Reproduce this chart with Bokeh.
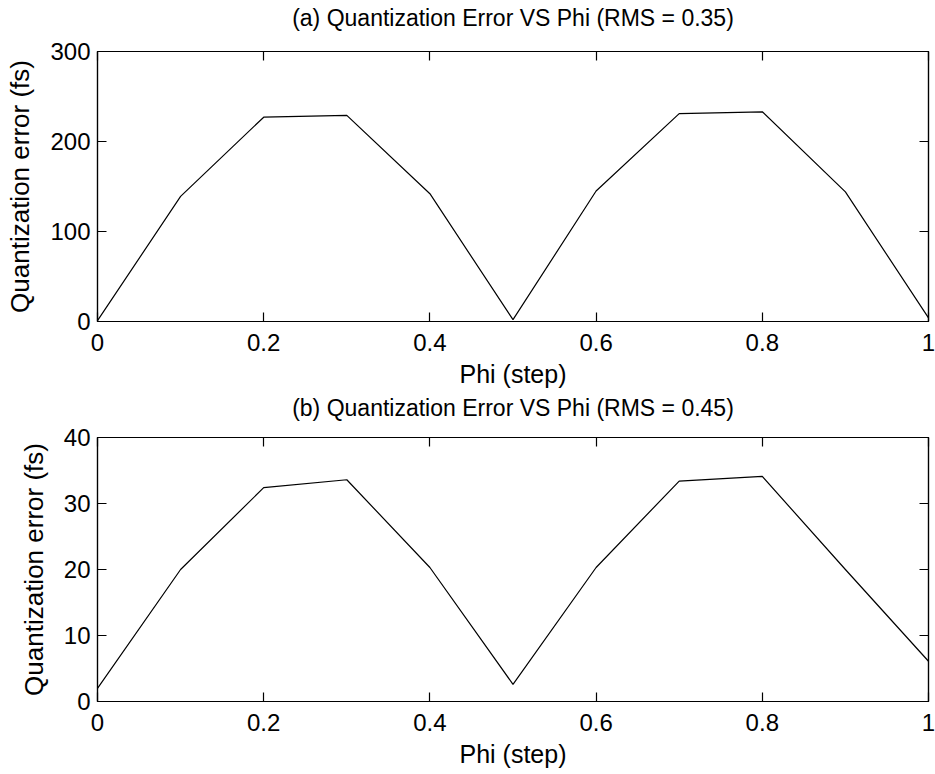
from bokeh.plotting import figure
from bokeh.layouts import column
from bokeh.models import LinearAxis, FixedTicker, Range1d, CustomJSTickFormatter
from bokeh.embed import file_html
from bokeh.resources import INLINE

# ---- data ----
phi = [0.0, 0.1, 0.2, 0.3, 0.4, 0.5, 0.6, 0.7, 0.8, 0.9, 1.0]
err_a = [1, 139, 227, 229, 142, 2, 145, 231, 233, 144, 4]
err_b = [2.0, 20.0, 32.4, 33.6, 20.3, 2.6, 20.3, 33.4, 34.1, 20.0, 6.1]

title_a = "(a) Quantization Error VS Phi (RMS = 0.35)"
title_b = "(b) Quantization Error VS Phi (RMS = 0.45)"
x_label = "Phi (step)"
y_label = "Quantization error (fs)"

x_ticks = [0, 0.2, 0.4, 0.6, 0.8, 1.0]
y_ticks_a = [0, 100, 200, 300]
y_ticks_b = [0, 10, 20, 30, 40]
y_range_a = (0, 300)
y_range_b = (0, 40)

FONT = "Liberation Sans"


def style_axis(ax, show_labels=True, standoff=10):
    ax.axis_line_color = "black"
    ax.axis_line_width = 1.2
    ax.major_tick_line_color = "black"
    ax.major_tick_line_width = 1.2
    ax.major_tick_in = 9
    ax.major_tick_out = 0
    ax.minor_tick_line_color = None
    ax.major_label_text_font = FONT
    ax.major_label_text_color = "black"
    if show_labels:
        ax.major_label_text_font_size = "24px"
        ax.major_label_standoff = standoff
    else:
        ax.major_label_text_font_size = "1px"
        ax.formatter = CustomJSTickFormatter(code="return ''")
        ax.major_label_standoff = 0


def make(title, ys, yr, yticks, height, top, bottom, title_gap):
    p = figure(width=935, height=height, output_backend="svg", toolbar_location=None,
               x_range=Range1d(0, 1), y_range=Range1d(*yr),
               min_border_left=97, min_border_right=7,
               min_border_top=top, min_border_bottom=bottom)

    p.grid.visible = False
    p.outline_line_color = "black"
    p.outline_line_width = 1.2
    p.background_fill_color = "white"
    p.border_fill_color = "white"

    xa = p.xaxis[0]
    ya = p.yaxis[0]
    xa.ticker = FixedTicker(ticks=x_ticks)
    xa.formatter = CustomJSTickFormatter(code="return tick.toFixed(1).replace(/\\.0$/, '')")
    ya.ticker = FixedTicker(ticks=yticks)
    style_axis(xa, True, 12)
    style_axis(ya, True, 7)
    for ax in (xa, ya):
        ax.axis_label_text_font = FONT
        ax.axis_label_text_font_style = "normal"
        ax.axis_label_text_color = "black"
    xa.axis_label = x_label
    xa.axis_label_text_font_size = "25px"
    xa.axis_label_standoff = 6
    ya.axis_label = y_label
    ya.axis_label_text_font_size = "26px"
    ya.axis_label_standoff = 12

    # top axis carries the subplot title as its label
    top_ax = LinearAxis(ticker=FixedTicker(ticks=x_ticks))
    right_ax = LinearAxis(ticker=FixedTicker(ticks=yticks))
    style_axis(top_ax, False)
    style_axis(right_ax, False)
    top_ax.axis_label = title
    top_ax.axis_label_text_font = FONT
    top_ax.axis_label_text_font_size = "23px"
    top_ax.axis_label_text_font_style = "normal"
    top_ax.axis_label_text_color = "black"
    top_ax.axis_label_standoff = title_gap
    p.add_layout(top_ax, "above")
    p.add_layout(right_ax, "right")

    p.line(phi, ys, line_color="black", line_width=1.2)
    return p


p1 = make(title_a, err_a, y_range_a, y_ticks_a, 391, 51, 70, 21)
p2 = make(title_b, err_b, y_range_b, y_ticks_b, 383, 45, 73, 17)

layout = column(p1, p2, spacing=0)
open("out.html", "w").write(file_html(layout, INLINE))
